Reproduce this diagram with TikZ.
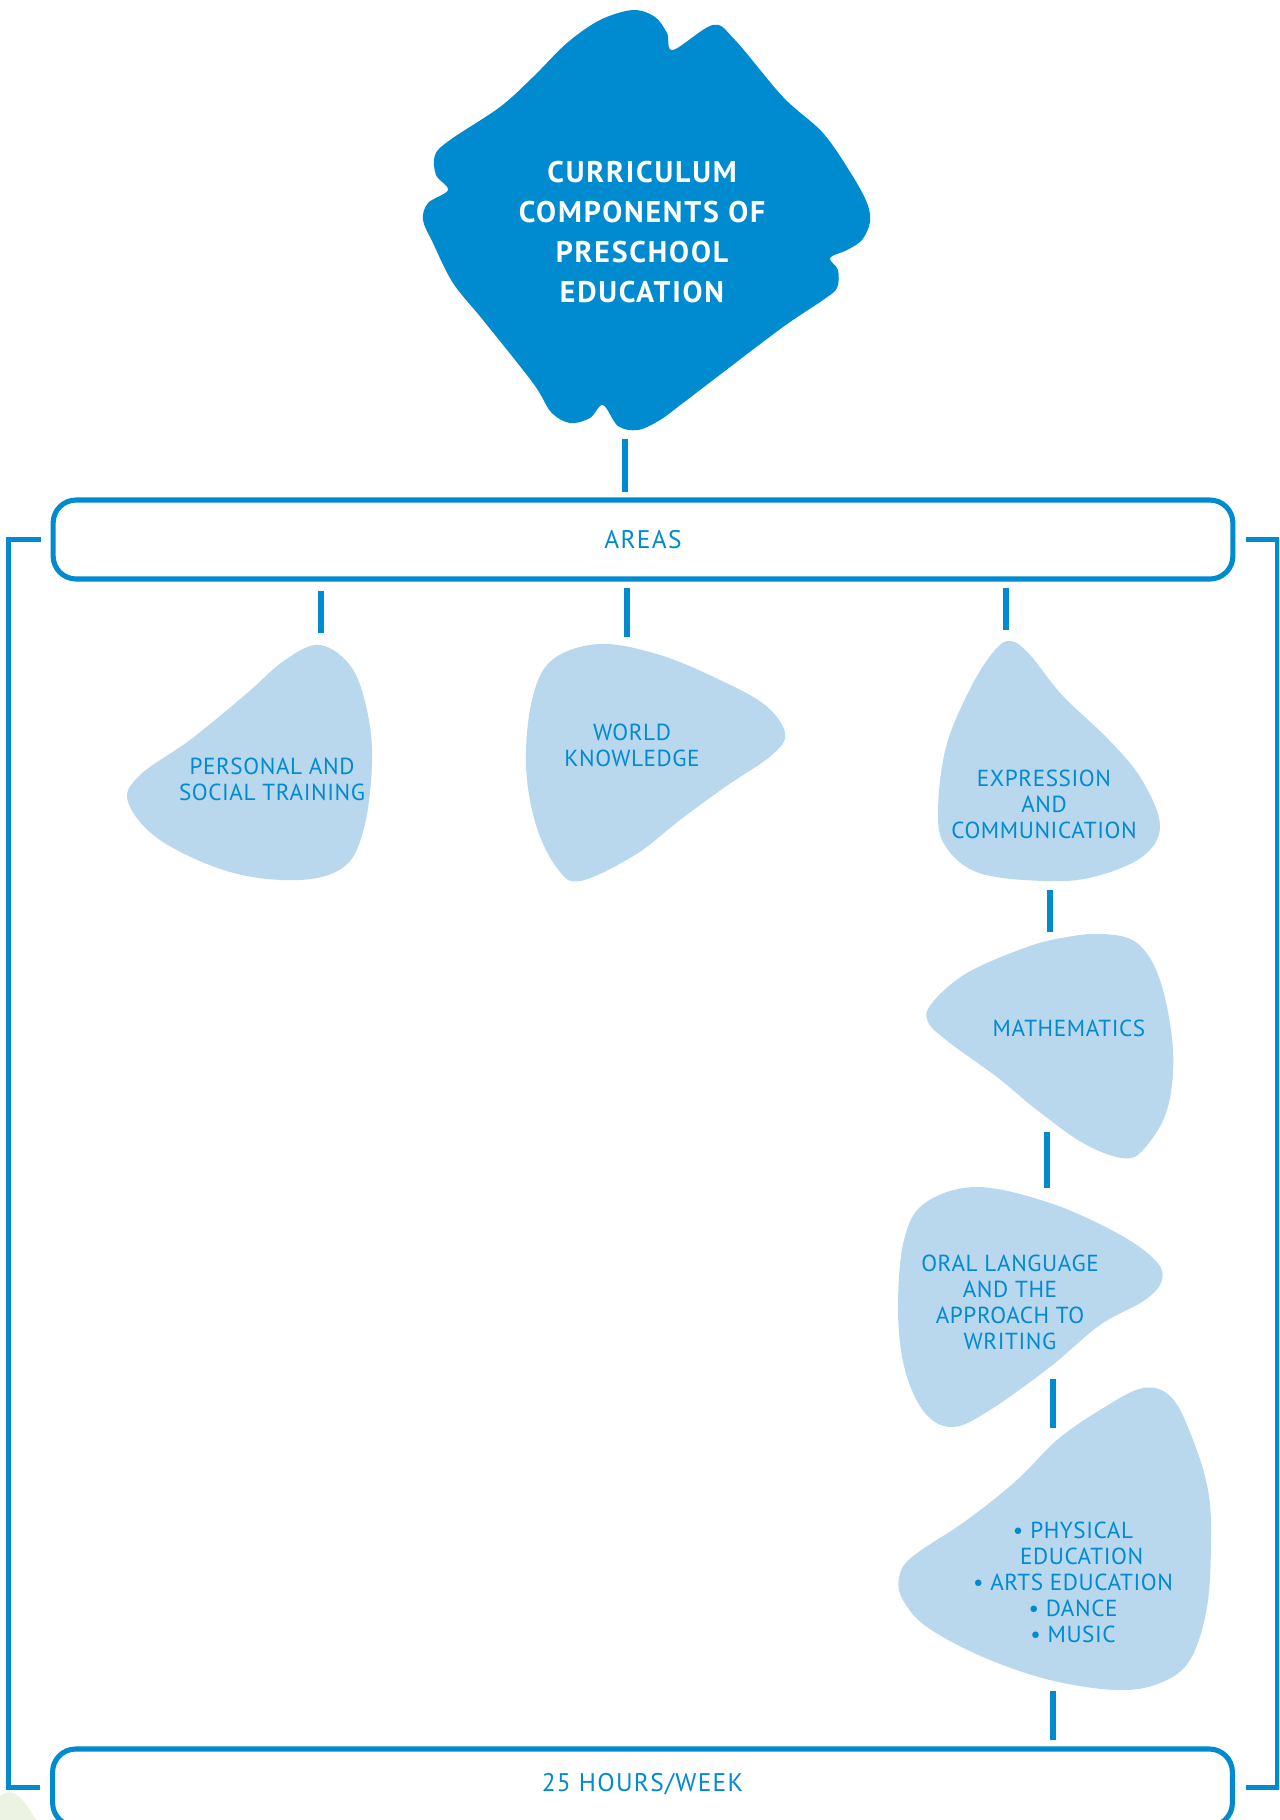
\documentclass[tikz,border=0pt]{standalone}
\usepackage{fontspec}
\setmainfont{PT Sans}
\usepackage{tikz}
\definecolor{deepblue}{RGB}{0,138,207}
\definecolor{paleblue}{RGB}{185,215,237}
\definecolor{palegreen}{RGB}{237,243,226}
\tikzset{
  blob/.style={fill=paleblue},
  bigblob/.style={fill=deepblue},
  blobtext/.style={text=deepblue, font=\fontsize{13.2}{14.8}\selectfont\addfontfeature{LetterSpace=2.5}, align=center, inner sep=0pt},
  titletext/.style={text=white, font=\bfseries\fontsize{17}{22.7}\selectfont\addfontfeature{LetterSpace=6}, align=center, inner sep=0pt},
  band/.style={draw=deepblue, line width=2.9pt, rounded corners=0.46cm, minimum width=23.6cm, text=deepblue, font=\fontsize{14.5}{16}\selectfont\addfontfeature{LetterSpace=5}, inner sep=0pt},
  link/.style={draw=deepblue, line width=3.3pt},
  frame/.style={draw=deepblue, line width=2.9pt}
}

\begin{document}
\begin{tikzpicture}[x=0.02cm, y=-0.02cm]
\useasboundingbox (0,0) rectangle (1279,1820);
\clip (0,0) rectangle (1279,1820);

\fill[bigblob] plot[smooth cycle, tension=0.55] coordinates {(673,50) (713,25) (735,40) (783,97) (823,133) (852,175) (867,203) (870,222) (862,240) (847,250) (830,258) (838,270) (837,288) (823,300) (783,327) (717,377) (683,403) (660,420) (638,430) (618,426) (603,405) (590,418) (570,423) (551,412) (533,383) (483,320) (453,283) (433,243) (423,220) (428,203) (448,190) (436,175) (435,155) (450,140) (500,107) (533,77) (567,43) (600,20) (633,10) (655,17) (667,33)};
\node[titletext] (core) at (642,232) {CURRICULUM\\COMPONENTS OF\\PRESCHOOL\\EDUCATION};

\node[band, minimum height=1.58cm] (areas) at (643,539.5) {AREAS};
\node[band, minimum height=1.54cm, text depth=0.2cm] (hours) at (642.5,1787.5) {25 HOURS/WEEK};
\draw[frame] ([xshift=-0.2cm]areas.west) -- ++(-0.64cm,0) |- ([xshift=-0.2cm]hours.west);
\draw[frame] ([xshift=0.22cm]areas.east) -- ++(0.62cm,0) |- ([xshift=0.22cm]hours.east);

\fill[blob] plot[smooth cycle, tension=0.6] coordinates {(320,645) (352,668) (368,715) (372,765) (364,828) (345,866) (300,880) (230,872) (160,840) (128,802) (140,775) (190,740) (245,695) (285,660)};
\fill[blob] plot[smooth cycle, tension=0.6] coordinates {(600,644) (660,655) (720,680) (765,705) (785,733) (772,755) (725,787) (680,820) (635,855) (580,881) (557,868) (536,825) (526,765) (532,700) (552,660)};
\fill[blob] plot[smooth cycle, tension=0.6] coordinates {(1011,641) (1030,655) (1062,695) (1109,740) (1142,780) (1160,826) (1142,857) (1093,877) (1044,881) (979,873) (946,847) (938,813) (946,747) (971,687) (995,650)};
\fill[blob] plot[smooth cycle, tension=0.6] coordinates {(1103,934) (1137,943) (1160,980) (1173,1050) (1167,1110) (1143,1150) (1122,1158) (1083,1143) (1037,1110) (997,1077) (950,1043) (928,1022) (932,1003) (967,973) (1027,947) (1067,937)};
\fill[blob] plot[smooth cycle, tension=0.6] coordinates {(977,1187) (1050,1203) (1117,1233) (1155,1260) (1162,1280) (1145,1300) (1100,1325) (1050,1367) (990,1410) (953,1427) (925,1413) (905,1370) (898,1310) (904,1240) (925,1203)};
\fill[blob] plot[smooth cycle, tension=0.6] coordinates {(1143,1388) (1172,1398) (1193,1440) (1208,1490) (1211,1540) (1207,1607) (1190,1660) (1160,1683) (1117,1690) (1050,1680) (983,1657) (927,1627) (903,1600) (899,1578) (912,1557) (967,1520) (1017,1480) (1057,1440) (1100,1410)};

\node[blobtext] (personal) at (272,779) {PERSONAL AND\\SOCIAL TRAINING};
\node[blobtext] (world) at (632,745) {WORLD\\KNOWLEDGE};
\node[blobtext] (expression) at (1044,804) {EXPRESSION\\AND\\COMMUNICATION};
\node[blobtext] (maths) at (1069,1028) {MATHEMATICS};
\node[blobtext] (oral) at (1010,1302) {ORAL LANGUAGE\\AND THE\\APPROACH TO\\WRITING};
\node[blobtext] (arts) at (1073,1582) {• PHYSICAL\\\phantom{• }EDUCATION\\• ARTS EDUCATION\\• DANCE\\• MUSIC};

\foreach \n/\x/\ya/\yb in {c0/625/439/492, c1/321/591/633, c2/627/588/637, c3/1006/588/630, c4/1050/890/932, c5/1047/1132/1188, c6/1053/1379/1428, c7/1053/1691/1740}
  \draw[link] (\x,\ya) coordinate (\n a) -- (\x,\yb) coordinate (\n b);

\fill[palegreen] (0,1796) .. controls (12,1786) and (22,1796) .. (36,1820) -- (0,1820) -- cycle;

\end{tikzpicture}
\end{document}
